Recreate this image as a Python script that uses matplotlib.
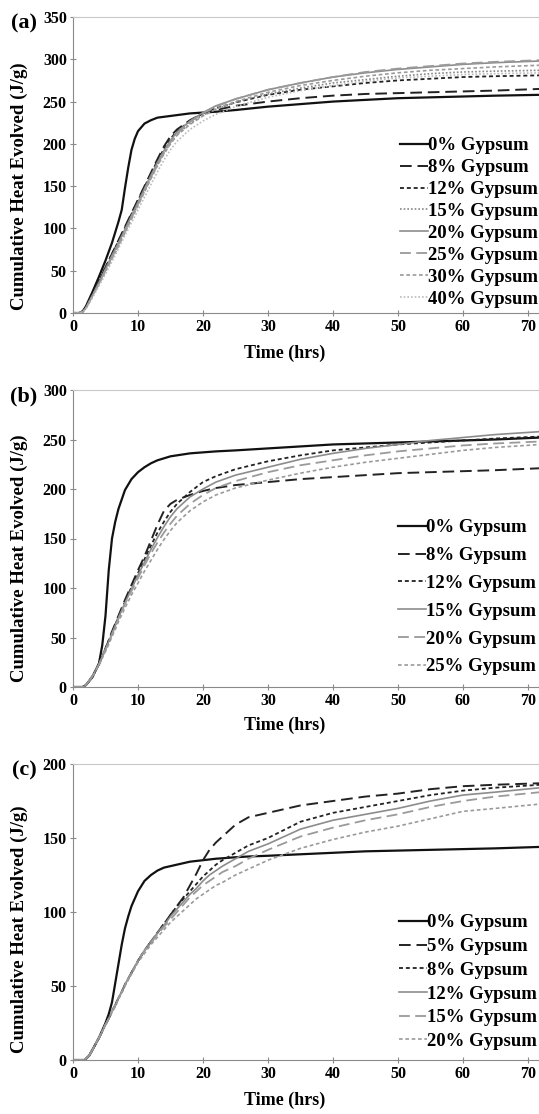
import matplotlib
matplotlib.use("Agg")
import matplotlib.pyplot as plt

plt.rcParams['font.family'] = ['Liberation Serif', 'DejaVu Serif']
plt.rcParams['font.weight'] = 'bold'

# ---- panel (a) ----
ta = [0, 1, 1.5, 2, 3, 4, 5, 6, 7, 7.5, 8, 8.5, 9, 9.5, 10, 11, 12, 13, 14, 15,
      16, 18, 20, 22, 25, 30, 35, 40, 45, 50, 55, 60, 65, 72]
a_labels = ["0% Gypsum", "8% Gypsum", "12% Gypsum", "15% Gypsum",
            "20% Gypsum", "25% Gypsum", "30% Gypsum", "40% Gypsum"]
a_g0 = [0, 0, 2, 8, 25, 43, 62, 83, 108, 122, 148, 172, 193, 206, 215, 224, 228, 231, 232, 233,
        234, 236, 237, 238, 240, 244, 247, 250, 252, 254, 255, 256, 257, 258]
a_g8 = [0, 0, 2, 7, 22, 38, 54, 70, 86, 94, 102, 110, 118, 126, 134, 150, 166, 182, 197, 209,
        217, 228, 236, 240, 245, 250, 254, 257, 259, 260, 261, 262, 263, 265]
a_g12 = [0, 0, 2, 7, 22, 38, 54, 70, 85, 93, 101, 109, 117, 125, 133, 149, 165, 180, 194, 206,
         215, 227, 236, 242, 249, 258, 264, 268, 272, 275, 277, 279, 280, 281]
a_g15 = [0, 0, 1.5, 6, 20, 35, 50, 65, 80, 88, 96, 104, 112, 120, 128, 144, 160, 175, 189, 201,
         211, 224, 234, 241, 249, 259, 266, 272, 276, 280, 283, 285, 286, 287]
a_g20 = [0, 0, 1.5, 6, 21, 36, 52, 68, 83, 91, 99, 107, 115, 123, 131, 147, 163, 178, 192, 204,
         214, 227, 237, 245, 253, 264, 272, 279, 284, 288, 291, 294, 296, 298]
a_g25 = [0, 0, 1.5, 6, 20, 35, 51, 66, 81, 89, 97, 105, 113, 121, 129, 145, 161, 176, 190, 202,
         212, 226, 236, 244, 253, 264, 272, 279, 285, 289, 292, 295, 297, 299]
a_g30 = [0, 0, 1.5, 6, 20, 34, 49, 64, 79, 87, 95, 103, 111, 119, 127, 143, 159, 174, 188, 200,
         210, 223, 233, 241, 250, 261, 269, 275, 280, 284, 287, 289, 291, 293]
a_g40 = [0, 0, 1, 5, 18, 32, 46, 61, 76, 84, 92, 99, 107, 114, 122, 137, 152, 167, 181, 193,
         203, 217, 227, 235, 244, 255, 263, 269, 274, 278, 280, 282, 283, 284]

# ---- panel (b) ----
tb = [0, 1.5, 2, 3, 4, 4.5, 5, 5.5, 6, 6.5, 7, 8, 9, 10, 11, 12, 13, 14, 15, 16,
      18, 20, 22, 25, 30, 35, 40, 45, 50, 55, 60, 65, 72]
b_labels = ["0% Gypsum", "8% Gypsum", "12% Gypsum", "15% Gypsum",
            "20% Gypsum", "25% Gypsum"]
b_g0 = [0, 0, 2, 10, 24, 42, 72, 118, 150, 167, 180, 199, 210, 217, 222, 226, 229, 231, 233, 234,
        236, 237, 238, 239, 241, 243, 245, 246, 247, 248, 249, 250, 252]
b_g8 = [0, 0, 2, 11, 23, 31, 39, 47, 56, 64, 72, 88, 103, 118, 132, 148, 164, 178, 185, 189,
        194, 198, 201, 204, 207, 210, 212, 214, 216, 217, 218, 219, 221]
b_g12 = [0, 0, 2, 11, 23, 31, 39, 47, 55, 63, 71, 86, 101, 115, 129, 143, 156, 167, 177, 185,
         197, 207, 213, 220, 228, 234, 239, 242, 245, 247, 249, 251, 253]
b_g15 = [0, 0, 2, 11, 23, 31, 38, 46, 54, 62, 70, 85, 99, 113, 126, 139, 151, 162, 172, 180,
         192, 200, 207, 214, 222, 230, 236, 241, 245, 249, 252, 255, 258]
b_g20 = [0, 0, 2, 11, 23, 30, 38, 45, 53, 61, 69, 84, 97, 110, 123, 135, 146, 156, 165, 173,
         185, 194, 201, 208, 217, 224, 229, 234, 238, 241, 244, 246, 248]
b_g25 = [0, 0, 2, 10, 22, 29, 36, 43, 51, 58, 66, 80, 93, 105, 117, 128, 139, 149, 158, 166,
         178, 187, 194, 201, 209, 216, 222, 227, 231, 235, 239, 242, 245]

# ---- panel (c) ----
tc = [0, 1.8, 2.5, 3, 4, 5, 5.5, 6, 6.5, 7, 7.5, 8, 8.5, 9, 10, 11, 12, 13, 14, 15,
      16, 17, 18, 19, 20, 21, 22, 23, 25, 27, 30, 35, 40, 45, 50, 55, 60, 65, 72]
c_labels = ["0% Gypsum", "5% Gypsum", "8% Gypsum", "12% Gypsum",
            "15% Gypsum", "20% Gypsum"]
c_g0 = [0, 0, 3, 7, 15, 25, 31, 39, 52, 65, 78, 89, 97, 104, 114, 121, 125, 128, 130, 131,
        132, 133, 134, 134.5, 135, 135.5, 136, 136.3, 137, 137.5, 138, 139, 140, 141, 141.5, 142, 142.5, 143, 144]
c_g5 = [0, 0, 3, 7, 15, 24, 28, 33, 37, 42, 46, 51, 55, 59, 67, 74, 80, 86, 92, 98,
        104, 110, 118, 126, 135, 142, 147, 151, 159, 164, 167, 172, 175, 178, 180, 183, 185, 186, 187]
c_g8 = [0, 0, 3, 7, 15, 24, 28, 33, 37, 42, 46, 51, 55, 59, 67, 74, 80, 86, 92, 98,
        104, 109, 114, 119, 124, 128, 132, 135, 140, 145, 150, 161, 167, 171, 175, 179, 182, 184, 186]
c_g12 = [0, 0, 3, 7, 15, 24, 28, 33, 37, 42, 46, 51, 55, 59, 67, 74, 80, 86, 91, 97,
         102, 107, 112, 116, 121, 125, 128, 131, 136, 141, 146, 156, 162, 166, 170, 175, 179, 181, 184]
c_g15 = [0, 0, 3, 7, 15, 24, 28, 33, 37, 42, 46, 51, 55, 59, 67, 74, 79, 85, 90, 95,
         100, 105, 110, 114, 118, 121, 124, 127, 131, 136, 142, 151, 157, 162, 166, 171, 175, 178, 181]
c_g20 = [0, 0, 3, 7, 15, 24, 28, 32, 36, 41, 45, 50, 54, 58, 66, 72, 78, 83, 88, 93,
         97, 101, 105, 109, 112, 115, 118, 120, 125, 129, 135, 143, 149, 154, 158, 163, 168, 170, 173]

# line styles (color, lw, dashes)
SOLID = (None, None)
LONG = (6, 3)
SHORT = (2.2, 1.6)
DOT = (1, 1.2)
style_a = [("#111111", 1.6, SOLID), ("#222222", 1.4, LONG), ("#222222", 1.3, SHORT),
           ("#888888", 1.2, DOT), ("#8c8c8c", 1.2, SOLID), ("#9a9a9a", 1.3, LONG),
           ("#9a9a9a", 1.2, SHORT), ("#bbbbbb", 1.2, DOT)]
style_bc = [("#111111", 1.6, SOLID), ("#222222", 1.4, LONG), ("#222222", 1.3, SHORT),
            ("#8c8c8c", 1.2, SOLID), ("#9a9a9a", 1.3, LONG), ("#9a9a9a", 1.2, SHORT)]

W, H = 539, 1114
fig = plt.figure(figsize=(W / 100, H / 100), dpi=100)


def panel(top_px, bot_px, t, series, labels, styles, ymax, letter,
          leg_x, leg_y, leg_space, ylab_y, xlab_y):
    ax = fig.add_axes([73 / W, 1 - bot_px / H, 1 - 73 / W, (bot_px - top_px) / H])
    for vals, lab, (c, lw, d) in zip(series, labels, styles):
        line, = ax.plot(t, vals, color=c, lw=lw, label=lab)
        if d[0] is not None:
            line.set_dashes(d)
    ax.set_xlim(0, 71.7)
    ax.set_ylim(0, ymax)
    ax.set_xticks(range(0, 80, 10))
    ax.set_yticks(range(0, ymax + 1, 50))
    ax.spines['right'].set_visible(False)
    ax.spines['top'].set_color('#c8c8c8')
    ax.spines['left'].set_color('#8a8a8a')
    ax.spines['bottom'].set_color('#8a8a8a')
    ax.tick_params(direction='inout', length=5, width=0.8, color='#8a8a8a',
                   labelsize=11.5, pad=2)
    for lbl in ax.get_xticklabels() + ax.get_yticklabels():
        lbl.set_fontweight('bold')
    ax.set_ylabel("Cumulative Heat Evolved (J/g)", fontsize=13.5, fontweight='bold')
    ax.yaxis.set_label_coords(-0.097, ylab_y)
    ax.set_xlabel("Time (hrs)", fontsize=13, fontweight='bold')
    ax.xaxis.set_label_coords(0.455, xlab_y)
    ax.legend(loc='upper left', bbox_to_anchor=(leg_x, leg_y), frameon=False,
              prop={'size': 13.5, 'weight': 'bold'}, handlelength=1.5,
              handletextpad=0.0, labelspacing=leg_space, borderaxespad=0,
              borderpad=0)
    fig.text(37 / W, 1 - (top_px + 6) / H, letter, ha='right', va='center',
             fontsize=16, fontweight='bold')
    return ax


panel(17, 313, ta, [a_g0, a_g8, a_g12, a_g15, a_g20, a_g25, a_g30, a_g40],
      a_labels, style_a, 350, "(a)", 0.702, 0.594, 0.255, 0.43, -0.108)
panel(390, 687, tb, [b_g0, b_g8, b_g12, b_g15, b_g20, b_g25],
      b_labels, style_bc, 300, "(b)", 0.697, 0.565, 0.57, 0.434, -0.101)
panel(764, 1060, tc, [c_g0, c_g5, c_g8, c_g12, c_g15, c_g20],
      c_labels, style_bc, 200, "(c)", 0.70, 0.492, 0.35, 0.443, -0.108)

fig.savefig("out.png", dpi=100)
